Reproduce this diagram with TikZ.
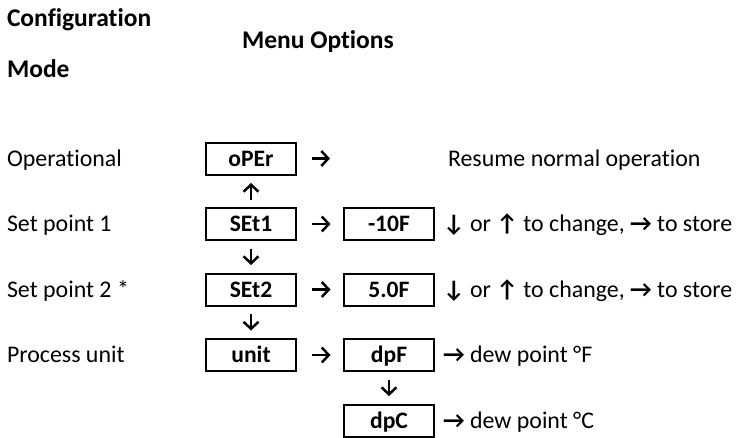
\documentclass[tikz,border=0pt]{standalone}
\usepackage{fontspec}
\setmainfont{Carlito}[Ligatures={NoCommon}]
\newfontfamily\dejavub{DejaVu Sans}
\usetikzlibrary{arrows.meta}
\newcommand\myarr[1]{{\bfseries\iffontchar\font`#1\relax #1\else{\dejavub\bfseries #1}\fi}}
\begin{document}
\begin{tikzpicture}[x=1pt,y=-1pt,
  every node/.style={inner sep=0pt, outer sep=0pt},
  lbl/.style={anchor=base west, font=\fontsize{23.9}{28}\selectfont},
  hdr/.style={anchor=base west, font=\fontsize{25.5}{30}\selectfont\bfseries},
  dbox/.style={draw, line width=2pt, minimum width=90pt, text height=23.5pt, text depth=8.5pt,
    font=\fontsize{23.6}{28}\selectfont\bfseries},
  conn/.style={line width=2.5pt, -{Straight Barb[length=7pt,width=15pt]}}
]
\useasboundingbox (0,0) rectangle (743,437);
% headings
\node[hdr] (conf) at (7,26) {Configuration};
\node[hdr] (menu) at (242,48) {Menu Options};
\node[hdr] (mode) at (7,77) {Mode};
% left labels
\node[lbl] (lop)  at (7,166) {Operational};
\node[lbl] (lsp1) at (7,231.5) {Set point 1};
\node[lbl] (lsp2) at (7,297) {Set point 2 *};
\node[lbl] (lpu)  at (7,362.5) {Process unit};
% boxes
\node[dbox] (oper) at (251,158.5) {oPEr};
\node[dbox] (set1) at (251,224) {SEt1};
\node[dbox] (set2) at (251,289.5) {SEt2};
\node[dbox] (unit) at (251,355) {unit};
\node[dbox] (m10f) at (389,224) {-10F};
\node[dbox] (f50)  at (389,289.5) {5.0F};
\node[dbox] (dpf)  at (389,355) {dpF};
\node[dbox] (dpc)  at (389,420.5) {dpC};
% descriptions
\node[lbl] (dres) at (448,166) {Resume normal operation};
\node[lbl] (dch1) at (443,231.5) {\myarr{↓} or \myarr{↑} to change, \myarr{→} to store};
\node[lbl] (dch2) at (443,297) {\myarr{↓} or \myarr{↑} to change, \myarr{→} to store};
\node[lbl] (ddf)  at (443,362.5) {\myarr{→} dew point °F};
\node[lbl] (ddc)  at (443,428) {\myarr{→} dew point °C};
% connectors
\coordinate (operto) at (330,158.5);
\draw[conn, shorten <=16pt] (oper) -- (operto);
\draw[conn, shorten <=16pt, shorten >=13.5pt] (set1) -- (m10f);
\draw[conn, shorten <=16pt, shorten >=13.5pt] (set2) -- (f50);
\draw[conn, shorten <=16pt, shorten >=13.5pt] (unit) -- (dpf);
\draw[conn, shorten <=8.5pt, shorten >=8.5pt] (set1) -- (oper);
\draw[conn, shorten <=8.5pt, shorten >=8.5pt] (set1) -- (set2);
\draw[conn, shorten <=8.5pt, shorten >=8.5pt] (set2) -- (unit);
\draw[conn, shorten <=8.5pt, shorten >=8.5pt] (dpf) -- (dpc);
\end{tikzpicture}
\end{document}
